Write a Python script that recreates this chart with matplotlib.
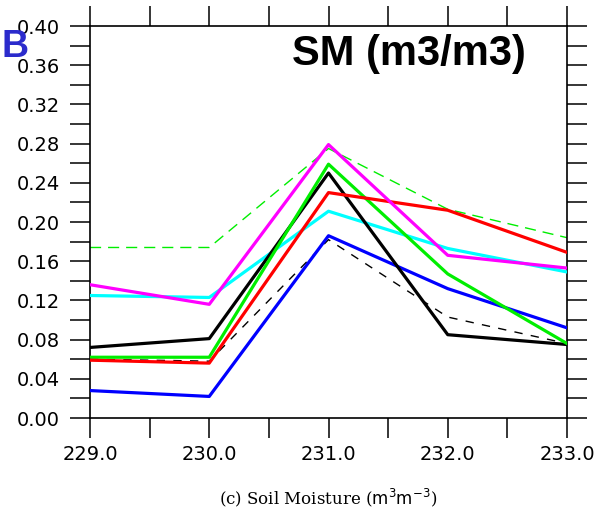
import numpy as np
import matplotlib
matplotlib.use("Agg")
import matplotlib.pyplot as plt
from matplotlib.ticker import MultipleLocator

# ---------------- data ----------------
x = [229.0, 230.0, 231.0, 232.0, 233.0]

black_solid = [0.072, 0.081, 0.250, 0.085, 0.075]
black_dash = [0.060, 0.058, 0.182, 0.103, 0.076]
green_solid = [0.062, 0.062, 0.259, 0.147, 0.076]
green_dash = [0.174, 0.174, 0.275, 0.213, 0.184]
red = [0.059, 0.056, 0.230, 0.212, 0.169]
blue = [0.028, 0.022, 0.186, 0.132, 0.092]
cyan = [0.125, 0.123, 0.211, 0.173, 0.149]
magenta = [0.136, 0.116, 0.279, 0.166, 0.153]

xticks = [229.0, 230.0, 231.0, 232.0, 233.0]
yticks = [0.00, 0.04, 0.08, 0.12, 0.16, 0.20, 0.24, 0.28, 0.32, 0.36, 0.40]

# ---------------- plot ----------------
fig = plt.figure(figsize=(6.06, 5.2), dpi=100)
ax = fig.add_axes([90 / 606, 1 - 418 / 520, 477 / 606, 392 / 520])

ax.plot(x, green_dash, color='#00ee00', lw=1.0, ls=(0, (8, 5)), zorder=2)
ax.plot(x, black_dash, color='black', lw=1.0, ls=(0, (6, 6)), zorder=2)
ax.plot(x, blue, color='#0000ff', lw=2.3, zorder=3)
ax.plot(x, cyan, color='#00ffff', lw=2.3, zorder=3)
ax.plot(x, black_solid, color='black', lw=2.3, zorder=3)
ax.plot(x, green_solid, color='#00ee00', lw=2.3, zorder=3)
ax.plot(x, red, color='#ff0000', lw=2.3, zorder=3)
ax.plot(x, magenta, color='#ff00ff', lw=2.3, zorder=3)

ax.set_xlim(229, 233)
ax.set_ylim(0, 0.40)
ax.set_xticks(xticks)
ax.set_xticklabels([f'{v:.1f}' for v in xticks])
ax.xaxis.set_minor_locator(MultipleLocator(0.5))
ax.set_yticks(yticks)
ax.set_yticklabels([f'{v:.2f}' for v in yticks])
ax.yaxis.set_minor_locator(MultipleLocator(0.02))

for which in ('major', 'minor'):
    ax.tick_params(which=which, direction='out', length=14.5, width=1.1,
                   top=True, right=True, colors='black')
ax.tick_params(axis='x', which='major', labelsize=14, pad=5)
ax.tick_params(axis='y', which='major', labelsize=14, pad=7)
for s in ax.spines.values():
    s.set_linewidth(1.2)

ax.set_xlabel(r'(c) Soil Moisture ($\mathrm{m}^3\mathrm{m}^{-3}$)', fontsize=12,
              family='DejaVu Serif', labelpad=16)

fig.text(409 / 606, 1 - 34 / 520, 'SM (m3/m3)', fontsize=30, fontweight='bold',
         family='Liberation Sans', ha='center', va='top')
fig.text(1 / 606, 1 - 29 / 520, 'B', fontsize=27, fontweight='bold',
         family='Liberation Sans', color='#2b2bcc', ha='left', va='top')

fig.savefig('out.png', dpi=100)
